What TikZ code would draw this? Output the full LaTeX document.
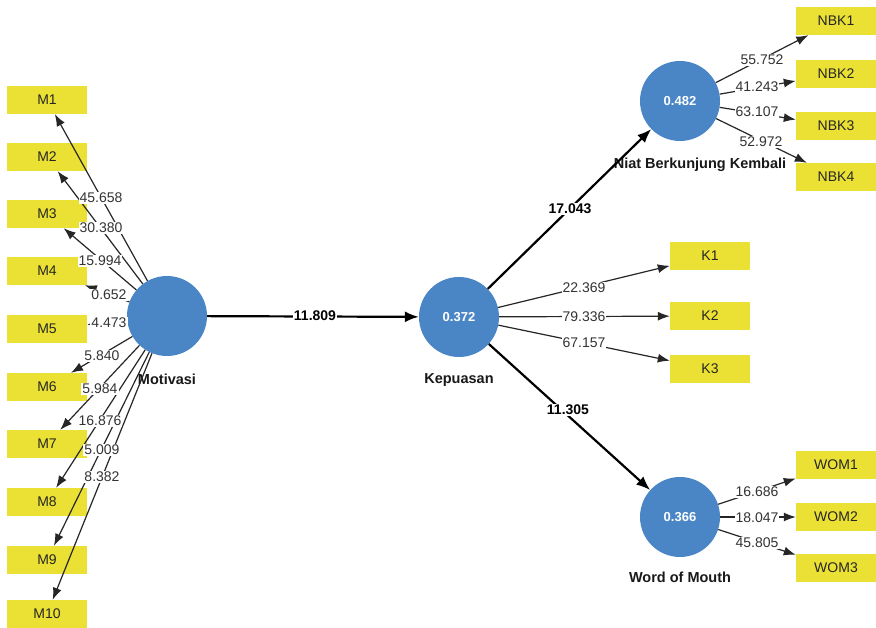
\documentclass[tikz,border=0pt]{standalone}
\usepackage{fontspec}
\setmainfont{Liberation Sans}
\usetikzlibrary{arrows.meta}
\definecolor{indyellow}{HTML}{EBE134}
\definecolor{lvblue}{HTML}{4A86C6}
\begin{document}
\begin{tikzpicture}[x=1pt,y=-1pt,
  indbox/.style={fill=indyellow,minimum width=80pt,minimum height=28pt,inner sep=0pt,
                 font=\fontsize{14}{15}\selectfont,text=black!85},
  latent/.style={circle,fill=lvblue,minimum size=80pt,inner sep=0pt,text=white,
                 font=\bfseries\fontsize{13}{14}\selectfont},
  lvname/.style={font=\bfseries\fontsize{14.5}{15}\selectfont,text=black!90},
  outer/.style={draw=black!85,line width=1.2pt,-{Latex[length=12pt,width=9pt]}},
  inner/.style={draw=black,line width=2.2pt,-{Latex[length=14pt,width=11pt]}},
  wlab/.style={fill=white,inner sep=1pt,font=\fontsize{14}{15}\selectfont,text=black!80},
  plab/.style={fill=white,inner sep=1pt,font=\bfseries\fontsize{14}{15}\selectfont},
]
\fill[white] (0,0) rectangle (876,628);
\useasboundingbox (0,0) rectangle (876,628);

% latent variables
\node[latent] (mot) at (167,316) {};
\node[latent] (kep) at (459,317) {0.372};
\node[latent] (nbk) at (680,101) {0.482};
\node[latent] (wom) at (680,517) {0.366};

\node[lvname] (motname) at (167,379) {Motivasi};
\node[lvname] (kepname) at (459,380) {Kepuasan};
\node[lvname] (nbkname) at (700,165) {Niat Berkunjung Kembali};
\node[lvname] (womname) at (680,577) {Word of Mouth};

% indicators of Motivasi
\node[indbox] (m1)  at (47,100) {M1};
\node[indbox] (m2)  at (47,157) {M2};
\node[indbox] (m3)  at (47,214) {M3};
\node[indbox] (m4)  at (47,271) {M4};
\node[indbox] (m5)  at (47,329) {M5};
\node[indbox] (m6)  at (47,387) {M6};
\node[indbox] (m7)  at (47,444) {M7};
\node[indbox] (m8)  at (47,502) {M8};
\node[indbox] (m9)  at (47,560) {M9};
\node[indbox] (m10) at (47,614) {M10};

% indicators of Niat Berkunjung Kembali
\node[indbox] (nbk1) at (836,21)  {NBK1};
\node[indbox] (nbk2) at (836,74)  {NBK2};
\node[indbox] (nbk3) at (836,126) {NBK3};
\node[indbox] (nbk4) at (836,177) {NBK4};

% indicators of Kepuasan
\node[indbox] (k1) at (710,256) {K1};
\node[indbox] (k2) at (710,316) {K2};
\node[indbox] (k3) at (710,369) {K3};

% indicators of Word of Mouth
\node[indbox] (wom1) at (836,465) {WOM1};
\node[indbox] (wom2) at (836,517) {WOM2};
\node[indbox] (wom3) at (836,568) {WOM3};

% outer loadings
\foreach \t in {m1,m2,m3,m4,m5,m6,m7,m8,m9,m10}
  \draw[outer] (mot) -- (\t);
\foreach \t in {nbk1,nbk2,nbk3,nbk4}
  \draw[outer] (nbk) -- (\t);
\foreach \t in {k1,k2,k3}
  \draw[outer] (kep) -- (\t);
\foreach \t in {wom1,wom2,wom3}
  \draw[outer] (wom) -- (\t);

% structural paths
\draw[inner] (mot) -- (kep);
\draw[inner] (kep) -- (nbk);
\draw[inner] (kep) -- (wom);

% t-values of the outer model
\node[wlab] (l1)  at (101,198) {45.658};
\node[wlab] (l2)  at (101,228) {30.380};
\node[wlab] (l3)  at (100,261) {15.994};
\node[wlab] (l4)  at (109,295) {0.652};
\node[wlab] (l5)  at (109,323) {4.473};
\node[wlab] (l6)  at (102,356) {5.840};
\node[wlab] (l7)  at (100,389) {5.984};
\node[wlab] (l8)  at (100,421) {16.876};
\node[wlab] (l9)  at (102,450) {5.009};
\node[wlab] (l10) at (102,477) {8.382};

\node[wlab] (ln1) at (762,60)  {55.752};
\node[wlab] (ln2) at (757,87)  {41.243};
\node[wlab] (ln3) at (757,112) {63.107};
\node[wlab] (ln4) at (761,142) {52.972};

\node[wlab] (lk1) at (584,288) {22.369};
\node[wlab] (lk2) at (584,317) {79.336};
\node[wlab] (lk3) at (584,343) {67.157};

\node[wlab] (lw1) at (757,492) {16.686};
\node[wlab] (lw2) at (757,518) {18.047};
\node[wlab] (lw3) at (757,543) {45.805};

% t-values of the structural paths
\node[plab] (p1) at (315,316) {11.809};
\node[plab] (p2) at (570,209) {17.043};
\node[plab] (p3) at (568,410) {11.305};
\end{tikzpicture}
\end{document}
